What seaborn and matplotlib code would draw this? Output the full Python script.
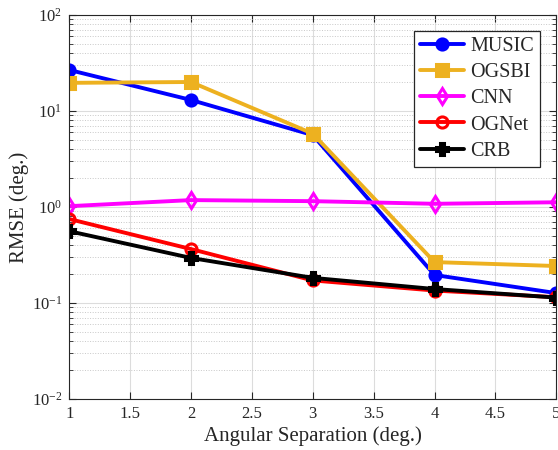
import numpy as np
import pandas as pd
import seaborn as sns
import matplotlib.pyplot as plt
from matplotlib.ticker import LogLocator, NullFormatter

# angular separation (deg.) and RMSE values
separation = [1, 2, 3, 4, 5]
rmse_music = [26.7, 13.0, 5.6, 0.196, 0.127]
rmse_ogsbi = [19.6, 20.0, 5.8, 0.267, 0.243]
rmse_cnn = [1.02, 1.18, 1.15, 1.08, 1.12]
rmse_ognet = [0.75, 0.365, 0.172, 0.135, 0.115]
rmse_crb = [0.56, 0.295, 0.183, 0.14, 0.114]

methods = ['MUSIC', 'OGSBI', 'CNN', 'OGNet', 'CRB']
values = [rmse_music, rmse_ogsbi, rmse_cnn, rmse_ognet, rmse_crb]

df = pd.DataFrame({
    'sep': np.tile(separation, len(methods)),
    'rmse': np.concatenate(values),
    'method': np.repeat(methods, len(separation)),
})

sns.set_style('ticks')
plt.rcParams['font.family'] = ['Liberation Serif', 'DejaVu Serif']
plt.rcParams['mathtext.fontset'] = 'stix'

fig = plt.figure(figsize=(5.58, 4.5), dpi=100)
ax = fig.add_axes([0.124, 0.113, 0.873, 0.854])

styles = {
    'MUSIC': dict(color='#0000ff', marker='o', mfc='#0000ff'),
    'OGSBI': dict(color='#edb120', marker='s', mfc='#edb120'),
    'CNN': dict(color='#ff00ff', marker='d', mfc='none'),
    'OGNet': dict(color='#ff0000', marker='o', mfc='none'),
    'CRB': dict(color='#000000', marker='P', mfc='#000000'),
}

for m in methods:
    st = styles[m]
    sns.lineplot(data=df[df.method == m], x='sep', y='rmse', ax=ax,
                 color=st['color'], marker=st['marker'], markersize=8,
                 markerfacecolor=st['mfc'], markeredgecolor=st['color'],
                 markeredgewidth=2.2, linewidth=2.8, label=m)

ax.set_yscale('log')
ax.set_xlim(1, 5)
ax.set_ylim(1e-2, 1e2)
ax.set_xticks(np.arange(1, 5.01, 0.5))
ax.set_xticklabels(['1', '1.5', '2', '2.5', '3', '3.5', '4', '4.5', '5'])
ax.yaxis.set_major_locator(LogLocator(base=10, numticks=10))
ax.yaxis.set_minor_locator(LogLocator(base=10, subs=np.arange(2, 10), numticks=10))
ax.yaxis.set_minor_formatter(NullFormatter())

ax.grid(which='major', color='#dcdcdc', linewidth=0.8)
ax.grid(which='minor', axis='y', color='#c8c8c8', linestyle=':', linewidth=0.7)
ax.set_axisbelow(True)

ax.tick_params(which='both', direction='in', top=True, right=True,
               labelsize=12, colors='#262626')
ax.tick_params(which='major', length=5, pad=5)
ax.tick_params(which='minor', length=3)
for sp in ax.spines.values():
    sp.set_color('#262626')
    sp.set_linewidth(0.8)

ax.set_xlabel('Angular Separation (deg.)', fontsize=15, color='#262626', labelpad=3)
ax.set_ylabel('RMSE (deg.)', fontsize=15, color='#262626', labelpad=2)

leg = ax.legend(loc='upper right', fontsize=14.5, frameon=True, fancybox=False,
                edgecolor='#262626', framealpha=1, handlelength=2.2,
                borderaxespad=0.8, labelspacing=0.35, handletextpad=0.3,
                borderpad=0.3)
leg.get_frame().set_linewidth(0.9)

fig.savefig('out.png', dpi=100)
